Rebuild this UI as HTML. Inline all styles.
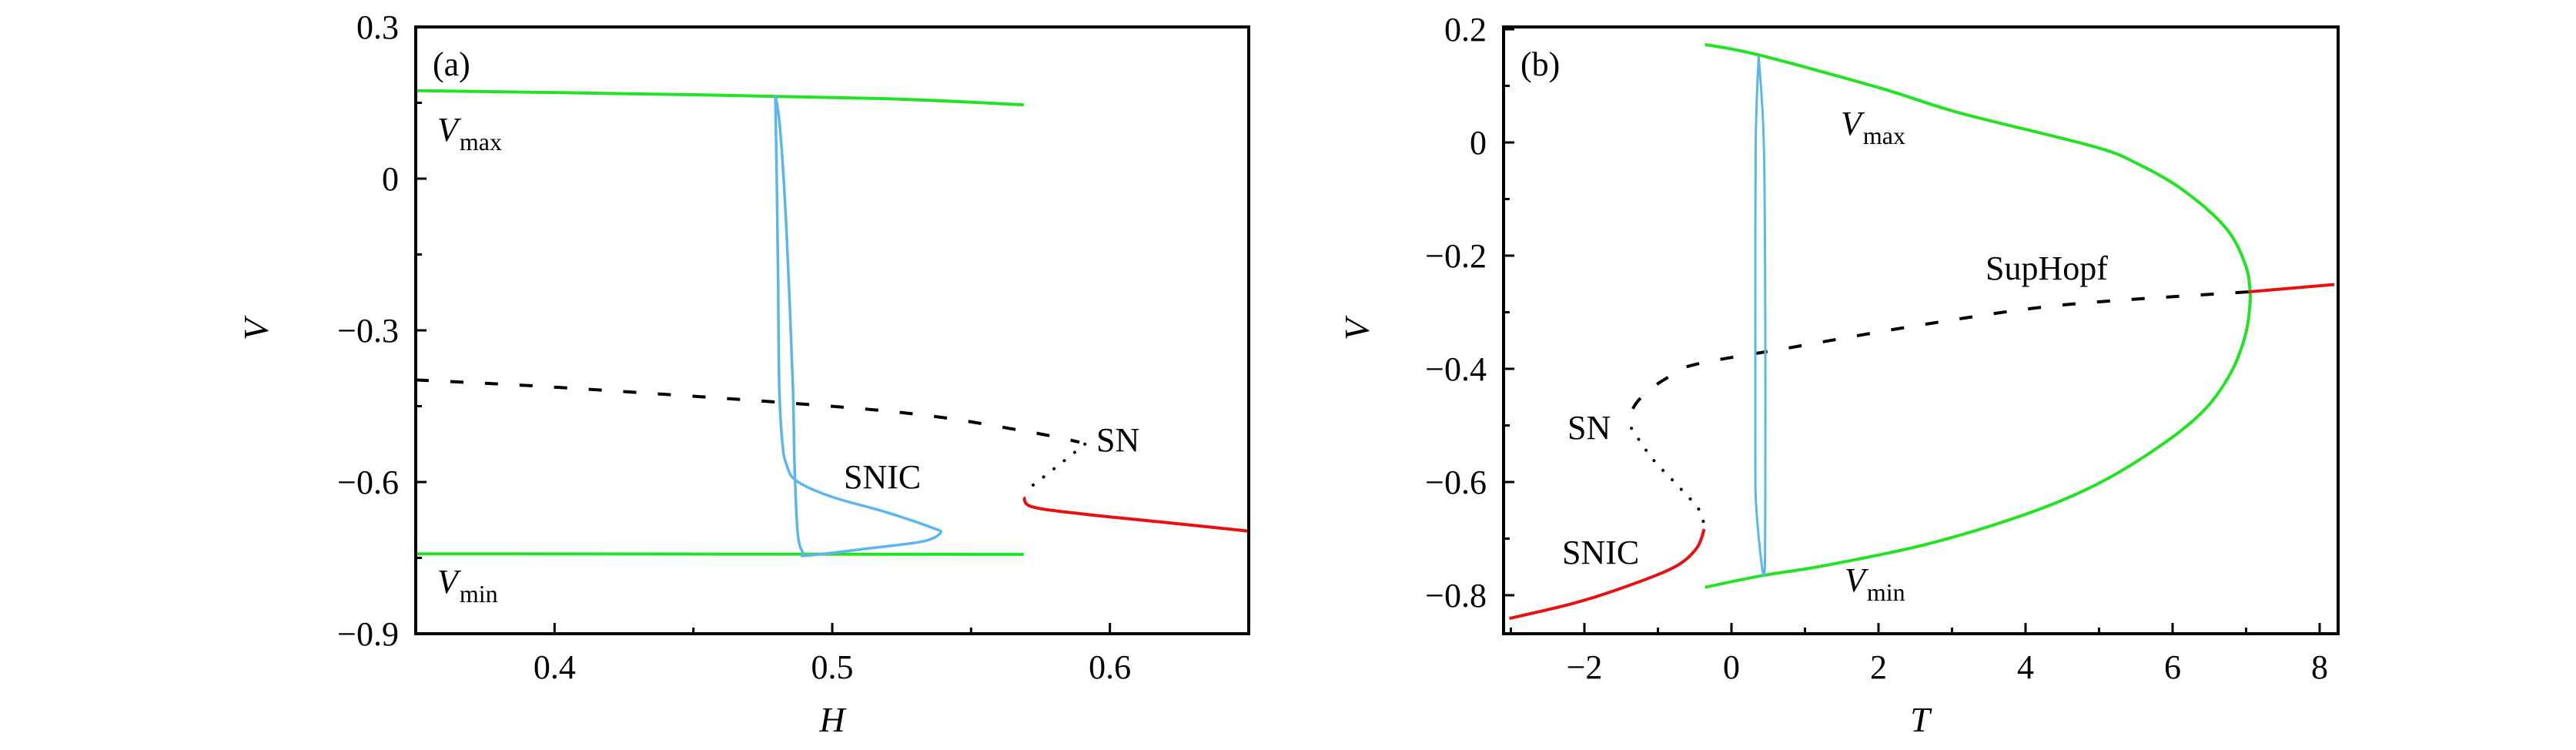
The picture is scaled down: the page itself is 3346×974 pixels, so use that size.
<!DOCTYPE html>
<html><head><meta charset="utf-8"><style>
html,body{margin:0;padding:0;background:#fff;}
svg{display:block;font-family:"Liberation Serif",serif;}
</style></head><body>
<svg id="fig" width="3346" height="974" viewBox="0 0 3346 974" xmlns="http://www.w3.org/2000/svg">
<g id="pa"></g>
<g id="pb"></g>
</svg>
<script>
// ---- Panel (a) data: V vs H ----
const aVmaxH=[0.35,0.45,0.52,0.569];
const aVmaxV=[0.174,0.166,0.158,0.146];
const aVminH=[0.35,0.569];
const aVminV=[-0.742,-0.743];
const aBlueH=[0.4795,0.4800,0.4805,0.4809,0.4820,0.4835,0.4872,0.4997,0.519,0.5358,0.539,0.533,0.515,0.4914,0.4894,0.4875,0.4864,0.4858,0.4835,0.4812,0.4795];
const aBlueV=[0.165,0.0,-0.2,-0.408,-0.52,-0.565,-0.598,-0.629,-0.659,-0.690,-0.700,-0.717,-0.730,-0.745,-0.740,-0.697,-0.560,-0.408,-0.1,0.1,0.165];
const aDashH=[0.35,0.402,0.49,0.535,0.572,0.589];
const aDashV=[-0.398,-0.413,-0.446,-0.469,-0.502,-0.521];
const aDotH=[0.591,0.581,0.570];
const aDotV=[-0.525,-0.569,-0.616];
const aRedH=[0.569,0.572,0.59,0.62,0.65];
const aRedV=[-0.630,-0.649,-0.663,-0.680,-0.697];
const aXTicks=[0.4,0.5,0.6];
const aXMinor=[0.45,0.55];
const aYTicks=[0.3,0,-0.3,-0.6,-0.9];
const aYLabels=["0.3","0","\u22120.3","\u22120.6","\u22120.9"];
const aYMinor=[0.15,-0.15,-0.45,-0.75];
// ---- Panel (b) data: V vs T ----
const bVmaxT=[-0.36,0.36,2.0,3.11,4.92,5.53,6.14,6.73,7.0,7.06];
const bVmaxV=[0.173,0.155,0.097,0.052,-0.007,-0.038,-0.084,-0.152,-0.22,-0.275];
const bVminT=[7.06,7.0,6.8,6.45,5.9,5.0,4.0,2.65,1.25,0.43,-0.36];
const bVminV=[-0.275,-0.335,-0.405,-0.47,-0.53,-0.602,-0.657,-0.710,-0.748,-0.765,-0.786];
const bBlueT=[0.37,0.33,0.325,0.325,0.34,0.44,0.46,0.46,0.44,0.37];
const bBlueV=[0.153,0.0,-0.3,-0.55,-0.65,-0.766,-0.65,-0.3,0.0,0.153];
const bDashT=[7.03,4.52,2.65,0.78,-0.52,-0.90,-1.18,-1.35,-1.36];
const bDashV=[-0.264,-0.287,-0.321,-0.363,-0.393,-0.418,-0.444,-0.473,-0.499];
const bDotT=[-1.36,-1.08,-0.71,-0.43,-0.37];
const bDotV=[-0.505,-0.558,-0.609,-0.651,-0.683];
const bRedLT=[-0.37,-0.48,-0.80,-1.55,-2.2,-3.02];
const bRedLV=[-0.683,-0.718,-0.752,-0.790,-0.816,-0.841];
const bRedRT=[7.03,8.2];
const bRedRV=[-0.264,-0.251];
const bXTicks=[-2,0,2,4,6,8];
const bXLabels=["\u22122","0","2","4","6","8"];
const bXMinor=[-3,-1,1,3,5,7];
const bYTicks=[0.2,0,-0.2,-0.4,-0.6,-0.8];
const bYLabels=["0.2","0","\u22120.2","\u22120.4","\u22120.6","\u22120.8"];
const bYMinor=[0.1,-0.1,-0.3,-0.5,-0.7];

const NS="http://www.w3.org/2000/svg";
function mk(parent,tag,attrs){const e=document.createElementNS(NS,tag);for(const k in attrs)e.setAttribute(k,attrs[k]);parent.appendChild(e);return e;}
function pathD(xs,ys,sx,sy){
  const p=xs.map((x,i)=>[sx(x),sy(ys[i])]);
  let d="M"+p[0][0].toFixed(1)+","+p[0][1].toFixed(1);
  for(let i=0;i<p.length-1;i++){
    const p0=p[Math.max(0,i-1)],p1=p[i],p2=p[i+1],p3=p[Math.min(p.length-1,i+2)];
    const c1=[p1[0]+(p2[0]-p0[0])/6,p1[1]+(p2[1]-p0[1])/6];
    const c2=[p2[0]-(p3[0]-p1[0])/6,p2[1]-(p3[1]-p1[1])/6];
    d+=" C"+c1[0].toFixed(1)+","+c1[1].toFixed(1)+" "+c2[0].toFixed(1)+","+c2[1].toFixed(1)+" "+p2[0].toFixed(1)+","+p2[1].toFixed(1);
  }
  return d;
}
function curve(g,xs,ys,sx,sy,color,w,dash,name){
  const e=mk(g,"path",{d:pathD(xs,ys,sx,sy),fill:"none",stroke:color,"stroke-width":w,"stroke-linecap":dash==="dot"?"round":"butt","stroke-linejoin":"round"});
  if(dash==="dash")e.setAttribute("stroke-dasharray","17 28");
  if(dash==="dot")e.setAttribute("stroke-dasharray","0.1 17");
  
  
  return e;
}
function txt(g,x,y,s,size,anchor,name,italic){
  const e=mk(g,"text",{x:x,y:y,"font-size":size,"text-anchor":anchor||"start",fill:"#000"});
  if(italic)e.setAttribute("font-style","italic");
  e.textContent=s;
  
  
  return e;
}
function sublabel(g,x,y,sub,name){
  const e=mk(g,"text",{x:x,y:y,"font-size":44,fill:"#000"});
  const t1=mk(e,"tspan",{"font-style":"italic"});t1.textContent="V";
  const t2=mk(e,"tspan",{"font-size":32,dy:12,dx:2});t2.textContent=sub;
  
  
}
function axes(g,L,R,T,B,sx,sy,xt,xl,xm,yt,yl,ym,pfx){
  for(let i=0;i<xt.length;i++){
    const x=sx(xt[i]);
    const t=mk(g,"line",{x1:x,x2:x,y1:B,y2:B-14,stroke:"#000","stroke-width":3});
    
    
    txt(g,x,B+58,xl[i],44,"middle",pfx+"x-tick-label");
  }
  for(const v of xm){const x=sx(v);const t=mk(g,"line",{x1:x,x2:x,y1:B,y2:B-8,stroke:"#000","stroke-width":3});
    
    }
  for(let i=0;i<yt.length;i++){
    const y=sy(yt[i]);
    const t=mk(g,"line",{x1:L,x2:L+14,y1:y,y2:y,stroke:"#000","stroke-width":3});
    
    
    txt(g,L-22,y+15,yl[i],44,"end",pfx+"y-tick-label");
  }
  for(const v of ym){const y=sy(v);const t=mk(g,"line",{x1:L,x2:L+8,y1:y,y2:y,stroke:"#000","stroke-width":3});
    
    }
  const r=mk(g,"rect",{x:L,y:T,width:R-L,height:B-T,fill:"none",stroke:"#000","stroke-width":4});
  
  
}
const GREEN="#22e322",BLUE="#5bb6ee",RED="#e81010";
// Panel a
(function(){
  const g=document.getElementById("pa");
  const L=540,R=1622,T=35,B=823;
  const sx=h=>L+(h-0.35)/(0.65-0.35)*(R-L);
  const sy=v=>T+(0.3-v)/(1.2)*(B-T);
  curve(g,aVmaxH,aVmaxV,sx,sy,GREEN,4,null,"vmax-curve");
  curve(g,aVminH,aVminV,sx,sy,GREEN,4,null,"vmin-curve");
  curve(g,aDashH,aDashV,sx,sy,"#000",4,"dash","unstable-branch");
  curve(g,aDotH,aDotV,sx,sy,"#000",4,"dot","saddle-branch");
  curve(g,aRedH,aRedV,sx,sy,RED,4,null,"stable-branch");
  curve(g,aBlueH,aBlueV,sx,sy,BLUE,3.5,null,"periodic-orbit");
  axes(g,L,R,T,B,sx,sy,aXTicks,["0.4","0.5","0.6"],aXMinor,aYTicks,aYLabels,aYMinor,"a-");
  txt(g,562,98,"(a)",44,"start","panel-label-a");
  sublabel(g,568,183,"max","vmax-label-a");
  sublabel(g,568,770,"min","vmin-label-a");
  txt(g,1096,634,"SNIC",44,"start","snic-label-a");
  txt(g,1424,586,"SN",44,"start","sn-label-a");
  txt(g,1081,950,"H",46,"middle","x-axis-title-a",true);
  const yl=txt(g,0,0,"V",46,"middle","y-axis-title-a",true);
  yl.setAttribute("transform","translate(348,428) rotate(-90)");
})();
// Panel b
(function(){
  const g=document.getElementById("pb");
  const L=1953,R=3037,T=35,B=823;
  const sx=t=>2249+t*95.5;
  const sy=v=>185-v*735;
  curve(g,bVmaxT,bVmaxV,sx,sy,GREEN,4,null,"vmax-curve");
  curve(g,bVminT,bVminV,sx,sy,GREEN,4,null,"vmin-curve");
  curve(g,bDashT,bDashV,sx,sy,"#000",4,"dash","unstable-branch");
  curve(g,bDotT,bDotV,sx,sy,"#000",4,"dot","saddle-branch");
  curve(g,bRedLT,bRedLV,sx,sy,RED,4,null,"stable-branch-left");
  curve(g,bRedRT,bRedRV,sx,sy,RED,4,null,"stable-branch-right");
  curve(g,bBlueT,bBlueV,sx,sy,BLUE,3,null,"periodic-orbit");
  axes(g,L,R,T,B,sx,sy,bXTicks,bXLabels,bXMinor,bYTicks,bYLabels,bYMinor,"b-");
  txt(g,1975,98,"(b)",44,"start","panel-label-b");
  sublabel(g,2391,175,"max","vmax-label-b");
  sublabel(g,2396,768,"min","vmin-label-b");
  txt(g,2579,363,"SupHopf",44,"start","suphopf-label");
  txt(g,2036,570,"SN",44,"start","sn-label-b");
  txt(g,2029,732,"SNIC",44,"start","snic-label-b");
  txt(g,2494,950,"T",46,"middle","x-axis-title-b",true);
  const yl=txt(g,0,0,"V",46,"middle","y-axis-title-b",true);
  yl.setAttribute("transform","translate(1778,428) rotate(-90)");
})();
</script>
</body></html>
